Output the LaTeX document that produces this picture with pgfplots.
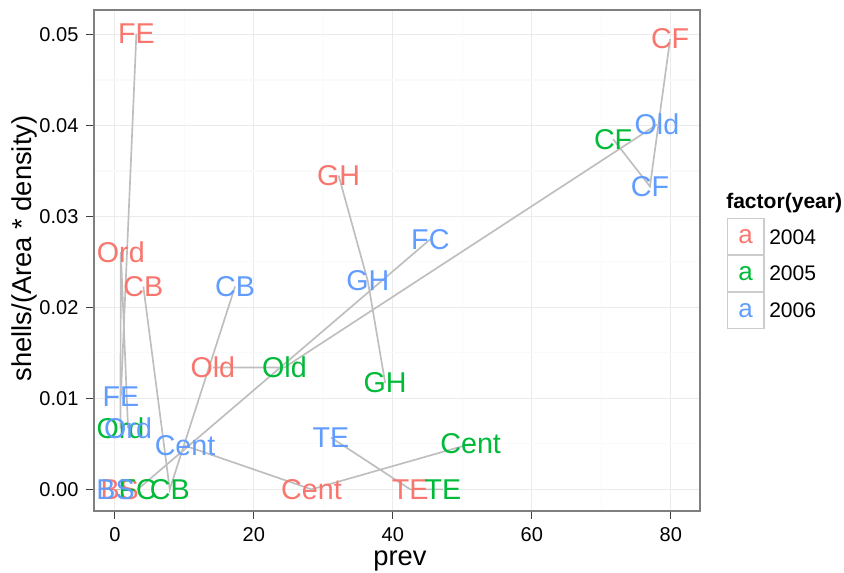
\documentclass[border=0pt]{standalone}
\usepackage{pgfplots}
\usepackage{pgfplotstable}
\pgfplotsset{compat=1.18}
\usepackage{fontspec}
\setmainfont{Liberation Sans}
\definecolor{cA}{HTML}{F8766D}
\definecolor{cB}{HTML}{00BA38}
\definecolor{cC}{HTML}{619CFF}
\definecolor{majgrid}{HTML}{EBEBEB}
\definecolor{mingrid}{HTML}{FAFAFA}
\definecolor{frame}{HTML}{7F7F7F}
\definecolor{pathc}{HTML}{BEBEBE}
\definecolor{keyc}{HTML}{CCCCCC}

\pgfplotstableread{
x y lab
3.1 0.0501 FE
79.9 0.0495 CF
32.2 0.0345 GH
0.86 0.0261 Ord
4.1 0.0223 CB
14.1 0.0134 Old
0.7 0 BS
28.3 0 Cent
42.5 0 TE
}\tabA
\pgfplotstableread{
x y lab
71.7 0.0385 CF
24.4 0.0134 Old
38.9 0.0117 GH
0.8 0.0067 Ord
51.2 0.0050 Cent
47.2 0 TE
7.9 0 CB
3.3 0 FC
}\tabB
\pgfplotstableread{
x y lab
78.0 0.0401 Old
77.0 0.0333 CF
45.4 0.0275 FC
36.4 0.0229 GH
17.3 0.0223 CB
0.86 0.0102 FE
1.9 0.0067 Ord
10.1 0.0048 Cent
31.1 0.0057 TE
0.1 0 BS
}\tabC

\newcommand{\labfont}{\fontsize{21.5pt}{21.5pt}\selectfont}
\newcommand{\tickfont}{\fontsize{15pt}{15pt}\selectfont}
\newcommand{\titlefont}{\fontsize{20.5pt}{20.5pt}\selectfont}
\newcommand{\legfont}{\fontsize{15.8pt}{15.8pt}\selectfont}

\begin{document}
\begin{tikzpicture}
\path[use as bounding box] (0pt,0pt) rectangle (633pt,429.75pt);
\begin{axis}[
  at={(70.5pt,46.5pt)}, anchor=south west,
  scale only axis, width=454.5pt, height=375.75pt,
  xmin=-3, xmax=84.2, ymin=-0.00238, ymax=0.0527,
  xtick={0,20,40,60,80},
  ytick={0,0.01,0.02,0.03,0.04,0.05},
  minor xtick={10,30,50,70},
  minor ytick={0.005,0.015,0.025,0.035,0.045},
  grid=both,
  major grid style={color=majgrid, line width=0.8pt},
  minor grid style={color=mingrid, line width=0.8pt},
  axis line style={color=frame, line width=1pt},
  tick align=outside, xtick pos=bottom, ytick pos=left,
  major tick length=6pt, minor tick length=0pt,
  tick style={color=black!75, line width=0.8pt},
  scaled y ticks=false,
  /pgf/number format/assume math mode=true,
  y tick label style={/pgf/number format/fixed, /pgf/number format/fixed zerofill, /pgf/number format/precision=2},
  tick label style={font=\tickfont, text=black, inner sep=0pt},
  xticklabel style={yshift=-6pt},
  yticklabel style={xshift=-5.5pt},
  xlabel={prev}, ylabel={shells/(Area * density)},
  every axis x label/.style={at={(axis description cs:0.505,-0.1)}, anchor=center, font=\titlefont},
  every axis y label/.style={at={(axis description cs:-0.114,0.524)}, anchor=center, rotate=90, font=\titlefont},
]
\addplot[only marks, mark=none, nodes near coords, point meta=explicit symbolic,
  every node near coord/.style={text=cA, font=\labfont, inner sep=0pt, anchor=center}]
  table[x=x,y=y,meta=lab]{\tabA};
\addplot[only marks, mark=none, nodes near coords, point meta=explicit symbolic,
  every node near coord/.style={text=cB, font=\labfont, inner sep=0pt, anchor=center}]
  table[x=x,y=y,meta=lab]{\tabB};
\addplot[only marks, mark=none, nodes near coords, point meta=explicit symbolic,
  every node near coord/.style={text=cC, font=\labfont, inner sep=0pt, anchor=center}]
  table[x=x,y=y,meta=lab]{\tabC};
% paths per site, ordered by prev
\addplot[pathc, line width=1.25pt, mark=none] coordinates {(3.1,0.0501) (0.86,0.0102)};
\addplot[pathc, line width=1.25pt, mark=none] coordinates {(0.8,0.0067) (0.86,0.0261) (1.9,0.0067)};
\addplot[pathc, line width=1.25pt, mark=none] coordinates {(0.1,0) (0.7,0)};
\addplot[pathc, line width=1.25pt, mark=none] coordinates {(3.3,0) (45.4,0.0275)};
\addplot[pathc, line width=1.25pt, mark=none] coordinates {(4.1,0.0223) (7.9,0) (17.3,0.0223)};
\addplot[pathc, line width=1.25pt, mark=none] coordinates {(10.1,0.0048) (28.3,0) (51.2,0.0050)};
\addplot[pathc, line width=1.25pt, mark=none] coordinates {(14.1,0.0134) (24.4,0.0134) (78.0,0.0401)};
\addplot[pathc, line width=1.25pt, mark=none] coordinates {(31.1,0.0057) (42.5,0) (47.2,0)};
\addplot[pathc, line width=1.25pt, mark=none] coordinates {(32.2,0.0345) (36.4,0.0229) (38.9,0.0117)};
\addplot[pathc, line width=1.25pt, mark=none] coordinates {(71.7,0.0385) (77.0,0.0333) (79.9,0.0495)};
\end{axis}
% legend
\begin{scope}[x=0.75pt,y=0.75pt]
\node[anchor=west, inner sep=0pt, font=\legfont\bfseries] at (726,370) {factor(year)};
\foreach \c/\yr [count=\i from 0] in {cA/2004,cB/2005,cC/2006}{
  \draw[keyc, line width=1.1pt] (727.5,354.5-36.7*\i) rectangle (764,317.8-36.7*\i);
  \node[text=\c, inner sep=0pt, font=\fontsize{19.5pt}{19.5pt}\selectfont] at (745.7,336.2-36.7*\i) {a};
  \node[anchor=west, inner sep=0pt, font=\legfont] at (769,336.2-36.7*\i) {\yr};
}
\end{scope}
\end{tikzpicture}
\end{document}
